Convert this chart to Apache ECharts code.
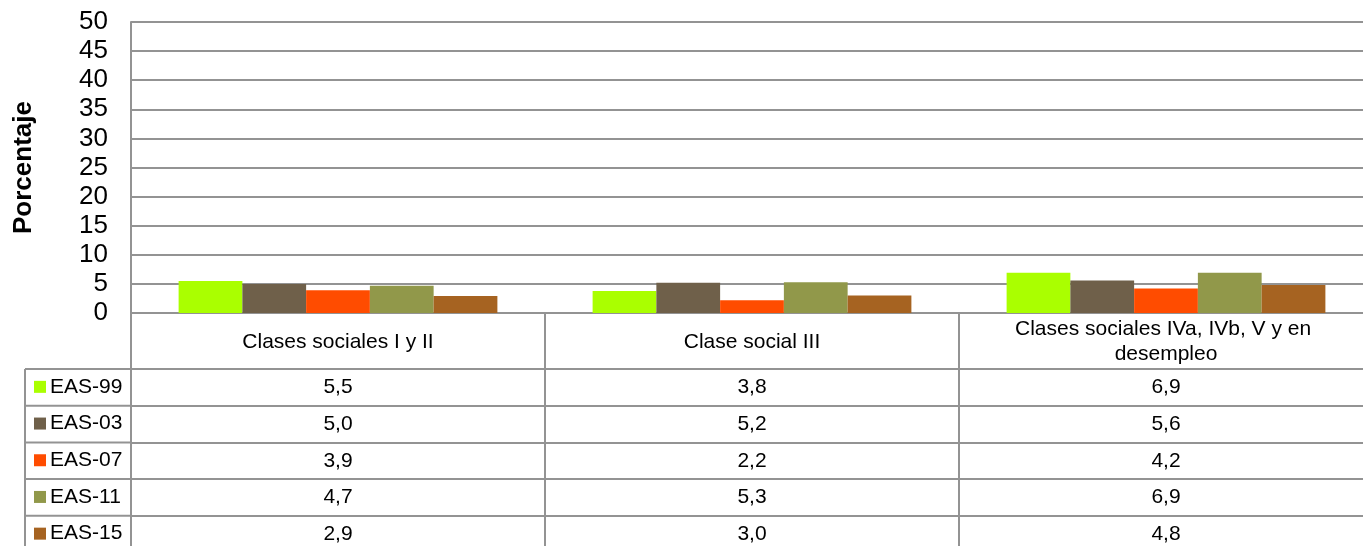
<!DOCTYPE html>
<html>
<head>
<meta charset="utf-8">
<script src="https://cdn.jsdelivr.net/npm/echarts@6/dist/echarts.min.js"></script>
<style>
  html, body { margin: 0; padding: 0; background: #fff; }
  #chart { width: 1363px; height: 546px; }
</style>
</head>
<body>
<div id="chart"></div>
<script>
const categories = ['Clases sociales I y II', 'Clase social III', 'Clases sociales IVa, IVb, V y en desempleo'];
const seriesNames = ['EAS-99', 'EAS-03', 'EAS-07', 'EAS-11', 'EAS-15'];
const eas99 = [5.5, 3.8, 6.9];
const eas03 = [5.0, 5.2, 5.6];
const eas07 = [3.9, 2.2, 4.2];
const eas11 = [4.7, 5.3, 6.9];
const eas15 = [2.9, 3.0, 4.8];
const colors = ['#aaff00', '#6f604a', '#ff4c00', '#91984a', '#a66321'];

const allValues = [eas99, eas03, eas07, eas11, eas15];
const font = 'Liberation Sans, Arial, sans-serif';
const lineColor = '#939393';
const tableTop = 313;
const headerH = 56;
const rowH = 36.7;
const tableFont = 21;

const fmt = v => v.toFixed(1).replace('.', ',');

// one extra x axis per table row, the category ticks make the column dividers
const tableAxes = allValues.map((vals, i) => ({
  type: 'category',
  data: categories,
  position: 'bottom',
  offset: headerH + i * rowH,
  axisLine: { lineStyle: { color: lineColor, width: 2 } },
  axisTick: { show: true, interval: 0, length: rowH, lineStyle: { color: lineColor, width: 2 } },
  axisLabel: {
    interval: 0,
    margin: rowH / 2,
    verticalAlign: 'middle',
    color: '#000',
    fontFamily: font,
    fontSize: tableFont,
    formatter: (val, idx) => fmt(vals[idx])
  }
}));

// one legend per table row, so each key sits in its own cell
const legends = seriesNames.map((n, i) => ({
  data: [n],
  left: 34,
  top: tableTop + headerH + i * rowH + rowH / 2 - 11,
  itemWidth: 12,
  itemHeight: 12,
  icon: 'rect',
  padding: 0,
  selectedMode: false,
  textStyle: { fontFamily: font, fontSize: tableFont, color: '#000', padding: [0, 0, 0, -1] }
}));

const rowLines = seriesNames.map((n, i) => ({
  type: 'line',
  shape: { x1: 25, y1: tableTop + headerH + i * rowH, x2: 131, y2: tableTop + headerH + i * rowH },
  style: { stroke: lineColor, lineWidth: 2 }
}));

const chart = echarts.init(document.getElementById('chart'));
chart.setOption({
  animation: false,
  // the plot runs a little past the right edge, as in the original crop
  grid: { left: 131, right: -10, top: 22, bottom: 546 - tableTop, outerBoundsMode: 'none' },
  legend: legends,
  xAxis: [
    {
      type: 'category',
      data: categories,
      axisLine: { lineStyle: { color: lineColor, width: 2 } },
      axisTick: { show: true, interval: 0, length: headerH, lineStyle: { color: lineColor, width: 2 } },
      axisLabel: {
        interval: 0,
        margin: 29,
        verticalAlign: 'middle',
        color: '#000',
        fontFamily: font,
        fontSize: tableFont,
        lineHeight: 25,
        width: 360,
        overflow: 'break'
      }
    },
    ...tableAxes
  ],
  yAxis: {
    type: 'value',
    min: 0,
    max: 50,
    interval: 5,
    name: 'Porcentaje',
    nameLocation: 'middle',
    nameGap: 94,
    nameTextStyle: { fontFamily: font, fontSize: 26, fontWeight: 'bold', color: '#000' },
    axisLine: { show: true, lineStyle: { color: lineColor, width: 2 } },
    axisTick: { show: false },
    axisLabel: { margin: 23, color: '#000', fontFamily: font, fontSize: 26 },
    splitLine: { lineStyle: { color: lineColor, width: 2 } }
  },
  graphic: rowLines.concat([
    { type: 'line', shape: { x1: 25, y1: tableTop + headerH, x2: 25, y2: 546 }, style: { stroke: lineColor, lineWidth: 2 } }
  ]),
  series: allValues.map((vals, i) => ({
    name: seriesNames[i],
    type: 'bar',
    data: vals,
    barGap: '0%',
    barCategoryGap: '23%',
    itemStyle: { color: colors[i] }
  }))
});
</script>
</body>
</html>
